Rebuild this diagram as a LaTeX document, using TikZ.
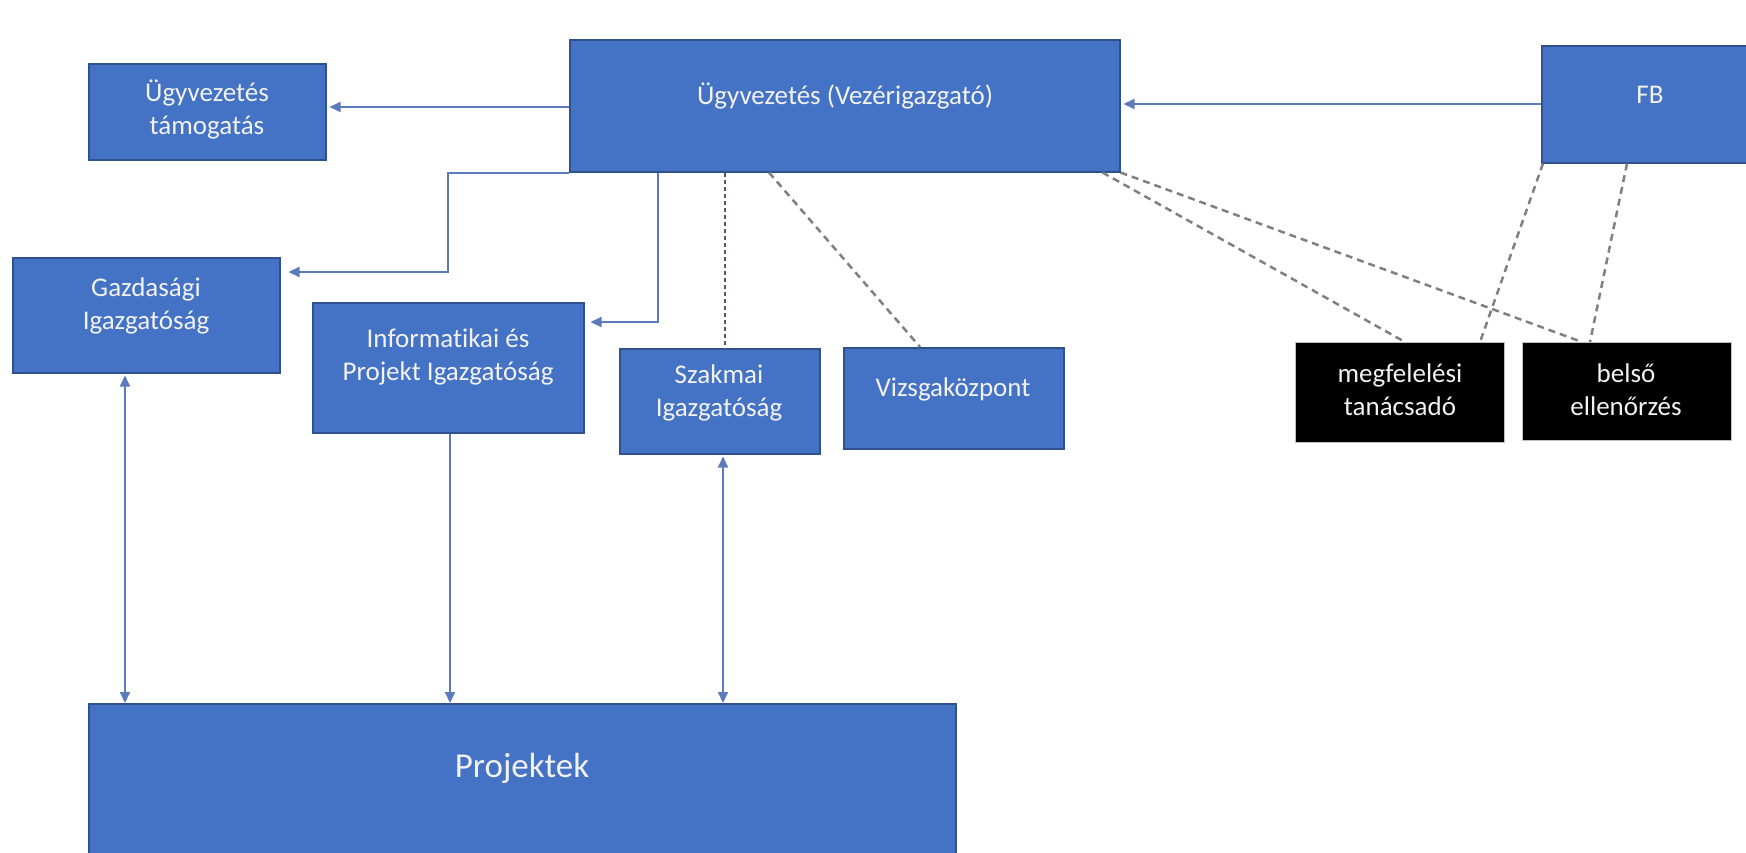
\documentclass[tikz,border=0pt]{standalone}
\usepackage{fontspec}
\setmainfont{Carlito}[Ligatures=CommonOff]
\usetikzlibrary{arrows.meta,calc}
\definecolor{boxblue}{HTML}{4472C4}
\definecolor{boxedge}{HTML}{2F528F}
\definecolor{linkblue}{HTML}{5B7BBE}
\definecolor{dashgrey}{HTML}{808080}
\definecolor{finegrey}{HTML}{4A5A78}
\definecolor{txtwhite}{HTML}{F2F2F2}
\begin{document}
\begin{tikzpicture}[x=1pt,y=-1pt,
  bluebox/.style={draw=boxedge, line width=1.5pt, fill=boxblue, inner sep=0pt, anchor=north west},
  blackbox/.style={draw=gray!50, line width=1pt, fill=black, inner sep=0pt, anchor=north west},
  lbl/.style={text=txtwhite, align=center, font=\fontsize{27}{33}\selectfont, inner sep=0pt},
  link/.style={draw=linkblue, line width=2pt, -{Triangle[length=11pt,width=10pt]}},
  twolink/.style={draw=linkblue, line width=2pt, {Triangle[length=11pt,width=10pt]}-{Triangle[length=11pt,width=10pt]}},
  dashlink/.style={draw=dashgrey, line width=2.5pt, dash pattern=on 7pt off 5pt},
  finedash/.style={draw=finegrey, line width=1.5pt, dash pattern=on 4pt off 3pt},
]
\useasboundingbox (0,0) rectangle (1746,852);
\clip (0,0) rectangle (1746,852);
\fill[white] (0,0) rectangle (1746,852);

% boxes
\node[bluebox, minimum width=237pt, minimum height=96pt] (tam) at (88,63) {};
\node[bluebox, minimum width=550pt, minimum height=132pt] (main) at (569,39) {};
\node[bluebox, minimum width=225pt, minimum height=117pt] (fb) at (1541,45) {};
\node[bluebox, minimum width=267pt, minimum height=115pt] (gaz) at (12,257) {};
\node[bluebox, minimum width=271pt, minimum height=130pt] (inf) at (312,302) {};
\node[bluebox, minimum width=200pt, minimum height=105pt] (sza) at (619,348) {};
\node[bluebox, minimum width=220pt, minimum height=101pt] (viz) at (843,347) {};
\node[blackbox, minimum width=209pt, minimum height=100pt] (meg) at (1295,342) {};
\node[blackbox, minimum width=209pt, minimum height=98pt] (bel) at (1522,342) {};
\node[bluebox, minimum width=867pt, minimum height=170pt] (proj) at (88,703) {};

% texts
\node[lbl] (tamt) at (207,109) {Ügyvezetés\\támogatás};
\node[lbl] (maint) at (845,96) {Ügyvezetés (Vezérigazgató)};
\node[lbl] (fbt) at (1650,95) {FB};
\node[lbl] (gazt) at (146,306) {Gazdasági\\Igazgatóság};
\node[lbl] (inft) at (448,357) {Informatikai és\\Projekt Igazgatóság};
\node[lbl] (szat) at (719,393) {Szakmai\\Igazgatóság};
\node[lbl] (vizt) at (953,389) {Vizsgaközpont};
\node[lbl] (megt) at (1400,390) {megfelelési\\tanácsadó};
\node[lbl] (belt) at (1626,390) {belső\\ellenőrzés};
\node[lbl, font=\fontsize{35}{40}\selectfont] (projt) at (522,768) {Projektek};

% helper coordinates
\coordinate (y104) at (0,104);
\coordinate (y107) at (0,107);
\coordinate (y272) at (0,272);
\coordinate (y322) at (0,322);
\coordinate (x448) at (448,0);
\coordinate (x658) at (658,0);
\coordinate (x725) at (725,0);
\coordinate (x125) at (125,0);
\coordinate (x450) at (450,0);
\coordinate (x723) at (723,0);

% solid connectors
\draw[link, shorten >=3pt] (main.west |- y107) -- (tam.east |- y107);
\draw[link, shorten >=3pt] (fb.west |- y104) -- (main.east |- y104);
\draw[link, shorten >=8pt] (main.south west) -- (x448 |- main.south) -- (x448 |- y272) -- (gaz.east |- y272);
\draw[link, shorten >=6pt] (main.south -| x658) -- (x658 |- y322) -- (inf.east |- y322);
\draw[twolink, shorten <=2pt] (gaz.south -| x125) -- (proj.north -| x125);
\draw[link] (inf.south -| x450) -- (proj.north -| x450);
\draw[twolink, shorten <=2pt] (sza.south -| x723) -- (proj.north -| x723);

% dashed connectors
\draw[finedash] (main.south -| x725) -- (sza.north -| x725);
\draw[dashlink] ($(main.south west)+(200,0)$) -- ($(viz.north west)+(77,0)$);
\draw[dashlink] ($(main.south east)+(-18,0)$) -- ($(meg.north west)+(110,0)$);
\draw[dashlink] (main.south east) -- ($(bel.north west)+(60,0)$);
\draw[dashlink] ($(fb.south west)+(2,0)$) -- ($(meg.north west)+(185,0)$);
\draw[dashlink] ($(fb.south west)+(86,0)$) -- ($(bel.north west)+(68,0)$);
\end{tikzpicture}
\end{document}
